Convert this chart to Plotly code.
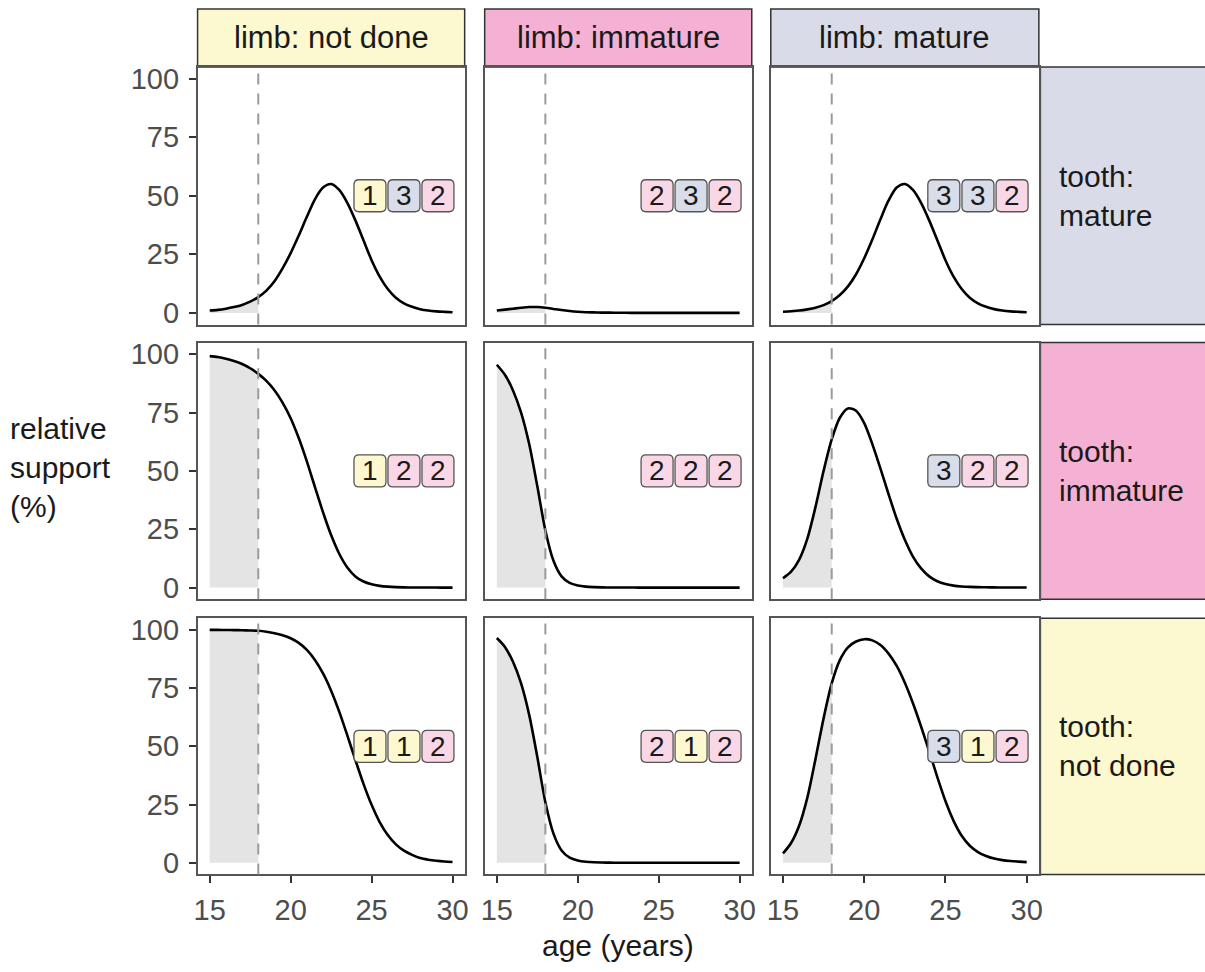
import plotly.graph_objects as go

# ---------------- data ----------------
AGES = [15.0, 15.5, 16.0, 16.5, 17.0, 17.5, 18.0, 18.5, 19.0, 19.5, 20.0, 20.5,
        21.0, 21.5, 22.0, 22.5, 23.0, 23.5, 24.0, 24.5, 25.0, 25.5, 26.0, 26.5,
        27.0, 27.5, 28.0, 28.5, 29.0, 29.5, 30.0]

LIMB_LABELS = ["limb: not done", "limb: immature", "limb: mature"]
TOOTH_LABELS = ["tooth:<br>mature", "tooth:<br>immature", "tooth:<br>not done"]

# support (%) per panel: rows = tooth (mature, immature, not done), cols = limb (not done, immature, mature)
tooth_mature_limb_notdone = [1.0, 1.3, 1.8, 2.5, 3.4, 4.8, 6.7, 9.5, 13.5, 19, 25.5, 33, 41, 48.5, 53.5, 55,
                             52.5, 47, 39.5, 31, 22.5, 15.5, 10.2, 6.5, 4.1, 2.6, 1.6, 1.0, 0.65, 0.45, 0.3]
tooth_mature_limb_immature = [1.0, 1.4, 1.8, 2.2, 2.5, 2.5, 2.2, 1.7, 1.2, 0.8, 0.5, 0.3, 0.2, 0.1, 0.1, 0.05,
                              0.03, 0.02, 0.01, 0, 0, 0, 0, 0, 0, 0, 0, 0, 0, 0, 0]
tooth_mature_limb_mature = [0.5, 0.7, 1.0, 1.5, 2.2, 3.3, 5.0, 7.6, 11.3, 16.5, 23.3, 31.3, 40, 48, 53.5, 55,
                            52.5, 47, 39.5, 31, 22.5, 15.5, 10.2, 6.5, 4.1, 2.6, 1.6, 1.0, 0.65, 0.45, 0.3]

tooth_immature_limb_notdone = [99.2, 98.8, 98.1, 97.1, 95.8, 94.0, 91.6, 88.6, 84.6, 79.3, 72.6, 64.1, 54.1,
                               43.1, 32.3, 22.5, 14.5, 8.6, 4.8, 2.6, 1.4, 0.75, 0.4, 0.2, 0.1, 0.05, 0.03,
                               0.02, 0.01, 0, 0]
tooth_immature_limb_immature = [95.5, 91.2, 84.5, 75, 61.5, 43.5, 24.5, 11.5, 4.8, 2.0, 0.9, 0.4, 0.2, 0.1,
                                0.05, 0.03, 0.02, 0.01, 0, 0, 0, 0, 0, 0, 0, 0, 0, 0, 0, 0, 0]
tooth_immature_limb_mature = [4, 6.8, 12, 21, 34.5, 50, 63.5, 72.8, 76.8, 75.8, 70.5, 61.5, 51, 40, 29.5, 20.5,
                              13.3, 8.2, 4.8, 2.7, 1.5, 0.85, 0.5, 0.3, 0.2, 0.12, 0.08, 0.05, 0.03, 0.02, 0.01]

tooth_notdone_limb_notdone = [100, 100, 99.95, 99.9, 99.85, 99.75, 99.6, 99.2, 98.6, 97.7, 96.4, 94.4, 91.4,
                              87.1, 81.3, 73.9, 64.9, 54.7, 44.1, 33.9, 24.9, 17.5, 11.9, 7.9, 5.2, 3.4, 2.0,
                              1.3, 0.85, 0.55, 0.35]
tooth_notdone_limb_immature = [96.5, 92.7, 86.3, 77, 63.5, 45.5, 26, 12.5, 5.3, 2.2, 1.0, 0.45, 0.2, 0.1, 0.05,
                               0.03, 0.02, 0.01, 0, 0, 0, 0, 0, 0, 0, 0, 0, 0, 0, 0, 0]
tooth_notdone_limb_mature = [4, 8.5, 16, 28, 44.5, 62, 77, 87, 92.5, 95, 96, 95.5, 93.5, 89.8, 84.5, 77.3,
                             68.5, 58.5, 47.8, 36.8, 26.5, 18, 11.6, 7.3, 4.6, 2.9, 1.8, 1.15, 0.75, 0.5, 0.3]

PANEL_CODES = [["132", "232", "332"],
               ["122", "222", "322"],
               ["112", "212", "312"]]

AGE_CUTOFF = 18
X_TICKS = [15, 20, 25, 30]
Y_TICKS = [0, 25, 50, 75, 100]

series = [[tooth_mature_limb_notdone, tooth_mature_limb_immature, tooth_mature_limb_mature],
          [tooth_immature_limb_notdone, tooth_immature_limb_immature, tooth_immature_limb_mature],
          [tooth_notdone_limb_notdone, tooth_notdone_limb_immature, tooth_notdone_limb_mature]]

# ---------------- style / layout ----------------
W, H = 1205, 972
FONT = "Liberation Sans"
YELLOW, PINK, LAV = "#fcf8cf", "#f4b1d3", "#d9dbe9"
LIMB_FILL = [YELLOW, PINK, LAV]
TOOTH_FILL = [LAV, PINK, YELLOW]
CODE_FILL = {"1": "#fdf8cf", "2": "#f9d7e6", "3": "#d9dce9"}
BOX_AGES = [24.9, 27.0, 29.1]
BOX_Y = 50

# target pixel positions (as seen in the reference)
col_px = [(197, 464), (484, 751), (770, 1038)]
row_px = [(66.5, 324.5), (342.5, 599.5), (618.5, 875)]
STRIP_TOP = 8.5
RIGHT_STRIP_LEFT = 1039.5

# small correction for the observed rendering scale
SCALE, SHIFT = 0.993, 3.5


def adj(p):
    return (p - SHIFT) / SCALE


def fx(p):
    return adj(p) / W


def fy(p):
    return 1 - adj(p) / H


fig = go.Figure()
layout = dict(width=W, height=H, margin=dict(l=0, r=0, t=0, b=0), autosize=False,
              paper_bgcolor="white", plot_bgcolor="white", showlegend=False,
              font=dict(family=FONT, color="#1a1a1a"))
shapes = []
annotations = []

s = 16
r = 5
box_path = (f"M {-s + r},{-s} L {s - r},{-s} Q {s},{-s} {s},{-s + r} L {s},{s - r} Q {s},{s} {s - r},{s} "
            f"L {-s + r},{s} Q {-s},{s} {-s},{s - r} L {-s},{-s + r} Q {-s},{-s} {-s + r},{-s} Z")

for ri in range(3):
    for ci in range(3):
        k = ri * 3 + ci + 1
        xa = "x" if k == 1 else f"x{k}"
        ya = "y" if k == 1 else f"y{k}"
        xkey = "xaxis" if k == 1 else f"xaxis{k}"
        ykey = "yaxis" if k == 1 else f"yaxis{k}"
        vals = series[ri][ci]

        layout[xkey] = dict(domain=[fx(col_px[ci][0]), fx(col_px[ci][1])], anchor=ya,
                            range=[14.25, 30.75], showgrid=False, zeroline=False,
                            showline=True, mirror=True, linecolor="#555", linewidth=1.5,
                            tickvals=X_TICKS, ticks="outside" if ri == 2 else "",
                            ticklen=7, tickwidth=1.5, tickcolor="#333",
                            showticklabels=(ri == 2), ticklabelstandoff=2,
                            tickfont=dict(size=29, color="#4d4d4d", family=FONT))
        layout[ykey] = dict(domain=[fy(row_px[ri][1]), fy(row_px[ri][0])], anchor=xa,
                            range=[-5, 105], showgrid=False, zeroline=False,
                            showline=True, mirror=True, linecolor="#555", linewidth=1.5,
                            tickvals=Y_TICKS, ticks="outside" if ci == 0 else "",
                            ticklen=7, tickwidth=1.5, tickcolor="#333",
                            showticklabels=(ci == 0), ticklabelstandoff=4,
                            tickfont=dict(size=29, color="#4d4d4d", family=FONT))

        sx = [a for a in AGES if a <= AGE_CUTOFF]
        sy = [v for a, v in zip(AGES, vals) if a <= AGE_CUTOFF]
        fig.add_trace(go.Scatter(x=sx, y=sy, xaxis=xa, yaxis=ya, mode="lines",
                                 line=dict(width=0, shape="spline", smoothing=0.8),
                                 fill="tozeroy", fillcolor="#e4e4e4", hoverinfo="skip"))
        fig.add_trace(go.Scatter(x=AGES, y=vals, xaxis=xa, yaxis=ya, mode="lines",
                                 line=dict(color="black", width=2.6, shape="spline", smoothing=0.8)))

        shapes.append(dict(type="line", xref=xa, yref=f"{ya} domain", x0=AGE_CUTOFF, x1=AGE_CUTOFF,
                           y0=0, y1=1, line=dict(color="#9a9a9a", width=2, dash="11px,9px"),
                           layer="above"))

        for code, bx in zip(PANEL_CODES[ri][ci], BOX_AGES):
            shapes.append(dict(type="path", xref=xa, yref=ya, xsizemode="pixel", ysizemode="pixel",
                               xanchor=bx, yanchor=BOX_Y, path=box_path,
                               fillcolor=CODE_FILL[code], line=dict(color="#555", width=1.3),
                               layer="above"))
            annotations.append(dict(xref=xa, yref=ya, x=bx, y=BOX_Y, text=code, showarrow=False,
                                    font=dict(size=28, color="#1a1a1a", family=FONT),
                                    xanchor="center", yanchor="middle"))

# top strips
top_of_panels = row_px[0][0]
for ci in range(3):
    x0, x1 = col_px[ci]
    shapes.append(dict(type="rect", xref="paper", yref="paper", x0=fx(x0), x1=fx(x1),
                       y0=fy(top_of_panels), y1=fy(STRIP_TOP), fillcolor=LIMB_FILL[ci],
                       line=dict(color="#333", width=1.5), layer="below"))
    annotations.append(dict(xref="paper", yref="paper", x=fx((x0 + x1) / 2),
                            y=fy((STRIP_TOP + top_of_panels) / 2),
                            text=LIMB_LABELS[ci], showarrow=False,
                            font=dict(size=31, color="#1a1a1a", family=FONT),
                            xanchor="center", yanchor="middle"))

# right strips
for ri in range(3):
    y0, y1 = row_px[ri]
    shapes.append(dict(type="rect", xref="paper", yref="paper", x0=fx(RIGHT_STRIP_LEFT), x1=1.02,
                       y0=fy(y1), y1=fy(y0), fillcolor=TOOTH_FILL[ri],
                       line=dict(color="#333", width=1.5), layer="below"))
    annotations.append(dict(xref="paper", yref="paper", x=fx(1056), y=fy((y0 + y1) / 2),
                            text=TOOTH_LABELS[ri], showarrow=False, align="left",
                            font=dict(size=30, color="#1a1a1a", family=FONT),
                            xanchor="left", yanchor="middle"))

# axis titles
annotations.append(dict(xref="paper", yref="paper", x=fx(7), y=fy(468),
                        text="relative<br>support<br>(%)", showarrow=False, align="left",
                        font=dict(size=30, color="#1a1a1a", family=FONT),
                        xanchor="left", yanchor="middle"))
annotations.append(dict(xref="paper", yref="paper", x=fx(617.5), y=fy(946),
                        text="age (years)", showarrow=False,
                        font=dict(size=30, color="#1a1a1a", family=FONT),
                        xanchor="center", yanchor="middle"))

layout["shapes"] = shapes
layout["annotations"] = annotations
fig.update_layout(**layout)
fig.write_html("out.html", config={"displayModeBar": False},
               post_script="document.body.style.margin='0';document.body.style.overflow='hidden';")
